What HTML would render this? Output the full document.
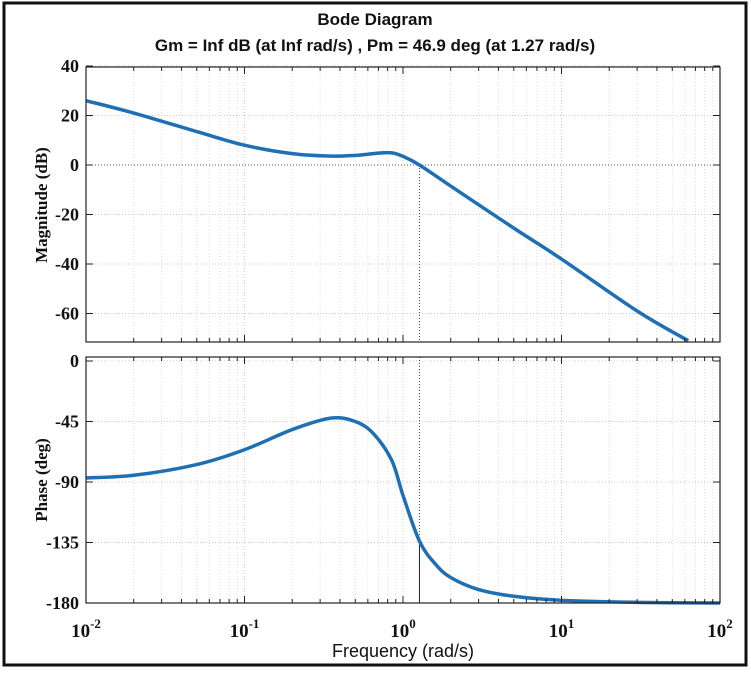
<!DOCTYPE html>
<html><head><meta charset="utf-8"><style>
body{margin:0;background:#fff;width:751px;height:669px;overflow:hidden}
svg text{fill:#111}
</style></head><body>
<svg width="751" height="669" viewBox="0 0 751 669">
<rect x="4" y="3" width="742" height="662" fill="#fff" stroke="#111" stroke-width="3"/>
<text x="375" y="25" text-anchor="middle" font-family="Liberation Sans, sans-serif" font-weight="bold" font-size="17">Bode Diagram</text>
<text x="375" y="51" text-anchor="middle" font-family="Liberation Sans, sans-serif" font-weight="bold" font-size="17">Gm = Inf dB (at Inf rad/s) ,  Pm = 46.9 deg (at 1.27 rad/s)</text>
<g id="grid"></g>
<g id="marks"></g>
<g id="axes"></g>
<text transform="translate(47,205) rotate(-90)" text-anchor="middle" font-family="Liberation Serif, serif" font-weight="bold" font-size="17">Magnitude (dB)</text>
<text transform="translate(47,480) rotate(-90)" text-anchor="middle" font-family="Liberation Serif, serif" font-weight="bold" font-size="17">Phase (deg)</text>
<text x="403" y="657" text-anchor="middle" font-family="Liberation Sans, sans-serif" font-size="18">Frequency  (rad/s)</text>
</svg>
<script>
const magFreq=[0.01,0.02,0.05,0.1,0.2,0.35,0.5,0.7,0.85,1.0,1.27,2,5,10,30,63];
const magDb=[26,21,13.5,8,4.6,3.6,3.9,4.8,4.9,3.5,0,-8.5,-25.5,-38,-59,-71];
const phFreq=[0.01,0.02,0.05,0.1,0.2,0.35,0.5,0.65,0.85,1.0,1.27,1.6,2,3,5,10,30,100];
const phDeg=[-87,-85,-77,-66,-51,-42.5,-45,-54,-74,-100,-134,-151,-161,-170,-175,-178,-179.5,-180];
const magTicks=[40,20,0,-20,-40,-60];
const phTicks=[0,-45,-90,-135,-180];
const decades=[-2,-1,0,1,2];
const pmFreq=1.27, pmPhase=-134;
const X0=86,X1=720;
const xs=w=>X0+(Math.log10(w)+2)/4*(X1-X0);
const MT=67,MB=342,ys1=v=>165-v*2.475;
const PT=357,PB=603,ys2=v=>361-v*(242/180);
const NS='http://www.w3.org/2000/svg';
function mk(p,t,a){const e=document.createElementNS(NS,t);for(const k in a)e.setAttribute(k,a[k]);p.appendChild(e);return e;}
const grid=document.getElementById('grid'),marks=document.getElementById('marks'),axes=document.getElementById('axes');
[[MT,MB],[PT,PB]].forEach(([t,b])=>{
 for(let d=-2;d<2;d++)for(let m=1;m<10;m++){const x=xs(m*Math.pow(10,d));if(m>1||d>-2){
  const l=mk(grid,'line',{x1:x,x2:x,y1:t,y2:b,stroke:m==1?'#ccc':'#ddd','stroke-dasharray':'1,2','stroke-width':1});
  }}
});
magTicks.forEach(v=>{const y=ys1(v);const l=mk(grid,'line',{x1:X0,x2:X1,y1:y,y2:y,stroke:v==0?'#555':'#ccc','stroke-dasharray':'1,2'});
 
 const t=mk(axes,'text',{x:X0-7,y:y+6,'text-anchor':'end','font-family':'Liberation Serif, serif','font-weight':'bold','font-size':18});t.textContent=v;
 });
phTicks.forEach(v=>{const y=ys2(v);const l=mk(grid,'line',{x1:X0,x2:X1,y1:y,y2:y,stroke:'#ccc','stroke-dasharray':'1,2'});
 
 const t=mk(axes,'text',{x:X0-7,y:y+6,'text-anchor':'end','font-family':'Liberation Serif, serif','font-weight':'bold','font-size':18});t.textContent=v;
 });
decades.forEach(d=>{const x=xs(Math.pow(10,d));const t=mk(axes,'text',{x:x,y:637,'text-anchor':'middle','font-family':'Liberation Serif, serif','font-weight':'bold','font-size':19});
 t.textContent='10';const s=mk(t,'tspan',{dy:-9,'font-size':13});s.textContent=d;
 });
const xp=xs(pmFreq);
let e=mk(marks,'line',{x1:xp,x2:xp,y1:ys1(0),y2:MB,stroke:'#444','stroke-dasharray':'1,2'});
e=mk(marks,'line',{x1:xp,x2:xp,y1:PT,y2:ys2(pmPhase),stroke:'#444','stroke-dasharray':'1,2'});
e=mk(marks,'line',{x1:xp,x2:xp,y1:ys2(pmPhase),y2:PB,stroke:'#222','stroke-width':1});
function curve(fr,vals,ysf){const p=fr.map((f,i)=>[xs(f),ysf(vals[i])]);let d='M'+p[0].join(',');
 for(let i=0;i<p.length-1;i++){const a=p[i-1]||p[i],b=p[i],c=p[i+1],n=p[i+2]||c;
  d+=' C'+(b[0]+(c[0]-a[0])/6)+','+(b[1]+(c[1]-a[1])/6)+' '+(c[0]-(n[0]-b[0])/6)+','+(c[1]-(n[1]-b[1])/6)+' '+c[0]+','+c[1];}return d;}
e=mk(marks,'path',{d:curve(magFreq,magDb,ys1),fill:'none',stroke:'#1f6fb4','stroke-width':3.5});
e=mk(marks,'path',{d:curve(phFreq,phDeg,ys2),fill:'none',stroke:'#1f6fb4','stroke-width':3.5});
[[MT,MB,'magnitude-axes-box'],[PT,PB,'phase-axes-box']].forEach(([t,b,n])=>{
 const r=mk(axes,'rect',{x:X0,y:t,width:X1-X0,height:b-t,fill:'none',stroke:'#222','stroke-width':1.2});
 for(let d=-2;d<2;d++)for(let m=1;m<10;m++){const x=xs(m*Math.pow(10,d));const L=m==1?7:4;
  mk(axes,'line',{x1:x,x2:x,y1:t,y2:t+L,stroke:'#222'});mk(axes,'line',{x1:x,x2:x,y1:b,y2:b-L,stroke:'#222'});}
});
magTicks.forEach(v=>{const y=ys1(v);mk(axes,'line',{x1:X0,x2:X0+7,y1:y,y2:y,stroke:'#222'});mk(axes,'line',{x1:X1,x2:X1-7,y1:y,y2:y,stroke:'#222'});});
phTicks.forEach(v=>{const y=ys2(v);mk(axes,'line',{x1:X0,x2:X0+7,y1:y,y2:y,stroke:'#222'});mk(axes,'line',{x1:X1,x2:X1-7,y1:y,y2:y,stroke:'#222'});});
</script>
</body></html>
